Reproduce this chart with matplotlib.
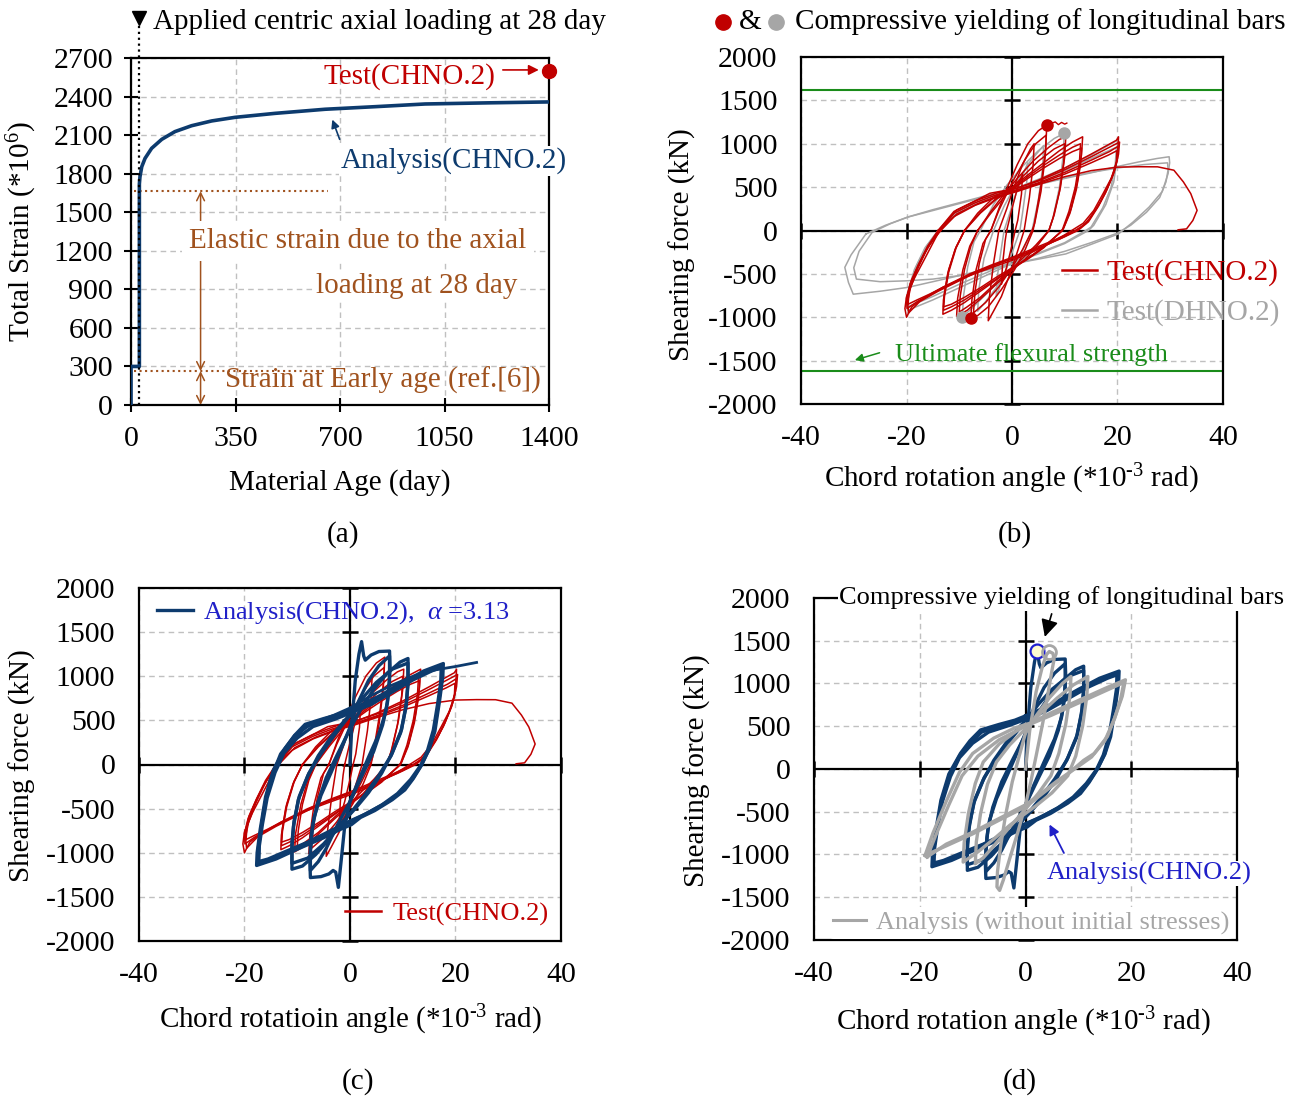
import numpy as np
import matplotlib.pyplot as plt
from matplotlib.lines import Line2D

plt.rcParams['font.family'] = ['Liberation Serif', 'DejaVu Serif']
plt.rcParams['mathtext.fontset'] = 'custom'
plt.rcParams['mathtext.rm'] = 'Liberation Serif'
plt.rcParams['mathtext.it'] = 'Liberation Serif:italic'
plt.rcParams['axes.unicode_minus'] = False

FS = 21       # axis labels, (a)/(b) annotations
FS_TICK = 21.5
FS_IN = 19    # in-plot texts of (b) flexural, (c), (d)
NAVY = '#0D3B6E'
RED = '#C00000'
GRAY = '#A6A6A6'
GREEN = '#1A8C1A'
BROWN = '#A0521E'
BLUE_TXT = '#2020C8'
GRID = '#C0C0C0'

# ---------------- (a) creep strain history ----------------
age_days = [0, 0, 28, 28, 30, 36, 47, 69, 103, 147, 203, 270, 348, 482, 650, 817, 985, 1200, 1400]
total_strain = [0, 300, 300, 1720, 1776, 1854, 1919, 1997, 2067, 2127, 2173, 2210, 2238, 2269, 2301,
                2321, 2342, 2351, 2358]
test_age = [1400]
test_strain = [2600]
age_ticks = [0, 350, 700, 1050, 1400]
strain_ticks = [0, 300, 600, 900, 1200, 1500, 1800, 2100, 2400, 2700]
loading_day = 28
elastic_top = 1663
early_top = 264

# ---------------- hysteresis data (x: *10^-3 rad, y: kN) ----------------
test_chno2_loops = [
    [(-1, 0), (0, 250), (1, 480), (2, 650), (1.8, 420), (1.1, 120), (0.6, 0), (0, -170), (-1, -420),
     (-2, -620), (-1.8, -400), (-1.3, -120), (-1, 0)],
    [(-2.5, 0), (-1, 250), (0.5, 520), (2, 760), (3.5, 940), (4.2, 1000), (4, 750), (3.3, 380), (2.3, 0),
     (1, -250), (-0.5, -520), (-2, -760), (-3.5, -930), (-4.5, -1040), (-4.3, -780), (-3.5, -380), (-2.5, 0)],
    [(-4, 0), (-2.5, 250), (-1, 480), (1, 760), (3, 1000), (5, 1150), (6.6, 1216), (6.4, 950), (5.6, 560),
     (4.6, 200), (4, 0), (2.5, -220), (0.5, -450), (-2, -680), (-4.5, -880), (-6.5, -980), (-7.8, -1012),
     (-7.6, -800), (-6.8, -450), (-5.5, -150), (-4, 0)],
    [(-4, 0), (-2.5, 230), (0, 550), (2.5, 820), (4.5, 1000), (6.5, 1100), (6.3, 850), (5.5, 450), (4.3, 80),
     (3.8, 0), (2, -220), (0, -430), (-2.5, -650), (-5, -830), (-7.3, -950), (-7, -700), (-6.2, -380),
     (-5, -100), (-4, 0)],
    [(-6.5, 0), (-4, 220), (-1.5, 420), (1, 600), (4, 800), (7, 960), (9, 1050), (10.2, 1080), (10, 850),
     (9.2, 500), (8, 180), (7, 0), (5, -160), (2.5, -330), (0, -460), (-3, -620), (-6, -790), (-8.5, -920),
     (-10.5, -990), (-10.3, -780), (-9.3, -450), (-8, -180), (-6.5, 0)],
    [(-6.5, 0), (-4, 200), (-1, 420), (2, 620), (5, 800), (8, 940), (10, 1000), (9.8, 780), (9, 450),
     (7.8, 150), (7, 0), (4.5, -170), (2, -320), (0, -440), (-3, -600), (-6, -770), (-8.5, -880),
     (-10, -940), (-9.8, -750), (-9, -450), (-7.8, -180), (-6.5, 0)],
    [(-9, 0), (-6.5, 200), (-3.5, 380), (0, 500), (3, 640), (6, 780), (9, 920), (11.5, 1020), (13.4, 1080),
     (13.2, 880), (12.4, 560), (11.2, 250), (9.8, 30), (9, -30), (6, -190), (3, -320), (0, -440),
     (-3, -570), (-6, -700), (-9, -830), (-11.5, -920), (-13.1, -965), (-13, -800), (-12.2, -500),
     (-10.8, -220), (-9, 0)],
    [(-9, 0), (-6, 210), (-3, 370), (0, 480), (3, 620), (6, 750), (9, 870), (11.5, 960), (13, 1000),
     (12.8, 800), (12, 500), (10.8, 220), (9.5, 0), (6, -200), (3, -330), (0, -440), (-3, -560), (-6, -680),
     (-9, -800), (-11.5, -880), (-13, -920), (-12.8, -760), (-12, -480), (-10.6, -200), (-9, 0)],
    [(-9, 0), (-6, 200), (-3, 360), (0, 470), (3, 600), (6, 720), (9, 830), (11.5, 910), (13.2, 950),
     (13, 760), (12.2, 470), (11, 200), (9.6, 0), (6, -190), (3, -320), (0, -430), (-3, -540), (-6, -660),
     (-9, -770), (-11.5, -850), (-13, -880), (-12.8, -720), (-12, -450), (-10.6, -190), (-9, 0)],
    [(-14, -30), (-10.5, 236), (-7, 340), (-4.2, 429), (0.9, 486), (5, 580), (10, 720), (15, 880),
     (18, 980), (19.8, 1040), (20.2, 1080), (20.1, 930), (19.8, 775), (18.8, 600), (17.3, 428),
     (15.5, 230), (13.5, 83), (10, -50), (7.2, -148), (3.5, -260), (0.2, -340), (-4, -430), (-8.6, -532),
     (-13, -650), (-17, -790), (-19, -880), (-20, -1000), (-20.3, -900), (-20, -764), (-18.5, -550),
     (-16.5, -320), (-14, -30)],
    [(-14, 0), (-11, 220), (-7, 340), (-3, 430), (1, 490), (5, 570), (10, 700), (15, 850), (18.5, 960),
     (20.4, 1020), (20.2, 880), (19.5, 700), (18.3, 520), (16.8, 330), (14.8, 140), (13, 30), (10, -70),
     (6, -180), (2, -280), (-2, -370), (-6, -460), (-10, -580), (-14, -700), (-17.5, -820), (-19.6, -950),
     (-19.8, -820), (-19.2, -650), (-17.8, -430), (-16, -200), (-14, 0)],
    [(-14, 0), (-11, 200), (-7, 320), (-3, 410), (1, 470), (5, 550), (10, 670), (15, 810), (18.5, 910),
     (20.1, 970), (20, 830), (19.3, 660), (18, 470), (16.4, 280), (14.5, 100), (12.5, 0), (9, -100),
     (5, -200), (1, -300), (-3, -390), (-7, -480), (-11, -600), (-15, -720), (-18, -820), (-19.9, -900),
     (-20, -780), (-19.3, -610), (-17.8, -400), (-16, -180), (-14, 0)],
    [(-13.5, 0), (-10.5, 190), (-6.5, 310), (-2.5, 400), (1, 460), (5, 540), (10, 650), (15, 780),
     (18.3, 870), (19.9, 920), (19.8, 790), (19, 620), (17.7, 430), (16, 250), (14, 80), (12, 0), (8, -110),
     (4, -210), (0, -310), (-4, -400), (-8, -500), (-12, -620), (-15.5, -730), (-18, -800), (-19.7, -850),
     (-19.8, -740), (-19.1, -580), (-17.6, -380), (-15.7, -170), (-13.5, 0)],
    [(-19.7, -850), (-19.5, -700), (-18.3, -480), (-16.5, -250), (-14, -20), (-11, 160), (-7, 290),
     (-3, 380), (1, 450), (5, 530), (10, 620), (15, 690), (20, 730), (24, 735), (27.6, 734), (30.7, 695),
     (32.5, 560), (33.9, 425), (35.1, 232), (34.3, 116), (33.1, 19), (31.5, 8)],
]
test_squiggle = [(7.0, 1222), (7.6, 1238), (8.2, 1252), (8.8, 1220), (9.4, 1246), (10.0, 1226), (10.4, 1238)]

test_dhno2_loops = [
    [(-1.5, 0), (0, 280), (1.5, 560), (3, 780), (2.8, 560), (2, 200), (1.5, 0), (0, -260), (-1.5, -520),
     (-3, -760), (-2.8, -540), (-2, -200), (-1.5, 0)],
    [(-3.5, 0), (-1.5, 280), (1, 560), (3.5, 800), (6, 980), (5.8, 720), (5, 350), (3.8, 0), (2, -230),
     (0, -420), (-2.5, -620), (-5, -820), (-6.5, -930), (-6.3, -680), (-5.3, -320), (-3.5, 0)],
    [(-6, 0), (-3.5, 300), (-1, 520), (2, 740), (5, 920), (8, 1060), (9.9, 1120), (9.7, 860), (9, 500),
     (7.8, 150), (7, 0), (4.5, -180), (2, -330), (0, -440), (-3, -620), (-6, -800), (-8, -920),
     (-9.4, -993), (-9.2, -760), (-8.4, -420), (-7.2, -130), (-6, 0)],
    [(-14, 0), (-10, 230), (-5, 370), (0, 470), (5, 590), (10, 720), (15, 870), (20, 1040), (20, 860),
     (19.3, 560), (17.8, 300), (15.5, 60), (14.5, 0), (10, -150), (5, -270), (0, -380), (-5, -520),
     (-10, -660), (-15, -800), (-19.8, -920), (-19.8, -720), (-18.5, -450), (-16.5, -200), (-14, 0)],
    [(-14, 0), (-10, 210), (-5, 350), (0, 450), (5, 570), (10, 690), (15, 830), (19.8, 960), (19.6, 780),
     (18.8, 500), (17.2, 260), (15, 40), (14, 0), (10, -140), (5, -260), (0, -360), (-5, -490),
     (-10, -620), (-15, -760), (-19.8, -880), (-19.6, -680), (-18.2, -420), (-16.2, -180), (-14, 0)],
    [(-27.7, -40), (-24, 60), (-19.8, 154), (-15, 230), (-10, 310), (-5, 390), (0, 463), (5, 530),
     (10, 600), (15, 665), (19.7, 734), (24, 790), (27.5, 830), (29.8, 850), (29.9, 780), (29.6, 656),
     (28.5, 450), (26, 270), (23, 100), (20.2, -39), (15, -160), (10.2, -270), (5, -330), (0, -386),
     (-5, -450), (-10, -520), (-15, -590), (-19.8, -656), (-25, -700), (-30.1, -734), (-31, -600),
     (-31.7, -425), (-30.5, -280), (-27.7, -40)],
    [(-26.5, -20), (-23, 80), (-19.5, 160), (-15, 240), (-10, 320), (-5, 400), (0, 470), (5, 540),
     (10, 610), (15, 670), (20, 720), (25, 760), (29.5, 780), (29.6, 700), (29.2, 560), (28, 380),
     (25.5, 210), (22.5, 60), (20, -30), (15, -140), (10, -240), (5, -320), (0, -390), (-5, -460),
     (-10, -520), (-15, -560), (-20, -580), (-25, -590), (-29.5, -560), (-30, -430), (-29, -240),
     (-26.5, -20)],
]

analysis_loops = [
    [(0, 0), (0.4, 500), (1, 950), (1.7, 1250), (2.2, 1392), (2.6, 1230), (2.9, 1182), (4, 1240),
     (5.5, 1280), (7.5, 1285), (7.6, 1100), (7.3, 800), (6.8, 600), (5.5, 350), (3.5, 80), (1.5, -200),
     (0, -420), (-1, -700), (-1.6, -1050), (-2.2, -1392), (-2.7, -1220), (-3.2, -1200), (-4, -1240),
     (-5.5, -1270), (-7.5, -1281), (-7.6, -1100), (-7.3, -800), (-6.8, -600), (-5.5, -350), (-3.5, -80),
     (-1.5, 200), (0, 420)],
    [(0, 420), (1.5, 700), (3.5, 950), (5.5, 1120), (7.5, 1230), (7.5, 950), (7.1, 700), (6.2, 450),
     (4.5, 150), (2.5, -100), (0, -420), (-2.5, -700), (-4.5, -950), (-6, -1100), (-7.5, -1200),
     (-7.5, -950), (-7.1, -700), (-6.2, -450), (-4.5, -150), (-2.5, 100), (0, 400)],
    [(0, 400), (2, 620), (4.5, 850), (7, 1030), (9.5, 1160), (11, 1201), (11, 950), (10.7, 700),
     (9.8, 400), (8, 130), (6, -100), (3.5, -320), (1, -500), (-1.5, -660), (-4, -850), (-6.5, -1020),
     (-9, -1150), (-11, -1186), (-11, -950), (-10.7, -700), (-9.8, -400), (-8, -130), (-6, 100),
     (-3.5, 320), (-1, 500), (0, 560)],
    [(0, 560), (2.5, 760), (5, 930), (8, 1080), (11, 1150), (11, 900), (10.6, 640), (9.6, 360), (7.8, 100),
     (5.5, -120), (3, -330), (0.5, -520), (-2, -700), (-5, -900), (-8, -1060), (-11, -1120), (-11, -880),
     (-10.6, -640), (-9.6, -360), (-7.8, -100), (-5.5, 120), (-3, 330), (0, 560)],
    [(0, 620), (3, 700), (6, 790), (10, 930), (14, 1060), (17.7, 1144), (17.6, 1000), (17, 729),
     (16.1, 377), (15, 170), (13.5, -14), (12, -160), (10.4, -288), (8, -400), (4.7, -522), (2, -600),
     (0.3, -680), (-2, -740), (-5, -830), (-10, -960), (-14, -1070), (-17.7, -1144), (-17.6, -1000),
     (-17, -729), (-16, -366), (-14.5, -60), (-12.3, 182), (-10.5, 330), (-8.5, 455), (-5, 520),
     (-2, 570), (0, 620)],
    [(0, 600), (3, 680), (6, 770), (10, 910), (14, 1040), (17.5, 1120), (17.4, 960), (16.8, 700),
     (16, 400), (15, 180), (13.6, 0), (12, -150), (10, -290), (7.5, -410), (4.5, -510), (2, -590),
     (0, -650), (-3, -740), (-6, -830), (-10, -940), (-14, -1050), (-17.5, -1120), (-17.4, -960),
     (-16.8, -700), (-15.9, -380), (-14.4, -80), (-12.5, 150), (-10.5, 300), (-8.3, 430), (-5, 500),
     (-2, 550), (0, 600)],
    [(0, 580), (4, 680), (8, 820), (12, 960), (15.5, 1060), (17.3, 1100), (17.2, 930), (16.6, 680),
     (15.8, 390), (14.7, 160), (13.4, -10), (11.5, -170), (9, -330), (6, -460), (3, -560), (0, -640),
     (-4, -760), (-8, -880), (-12, -980), (-15.5, -1070), (-17.3, -1100), (-17.2, -930), (-16.6, -680),
     (-15.7, -380), (-14.2, -90), (-12.5, 130), (-10, 300), (-7, 430), (-3, 510), (0, 580)],
]
analysis_tail = [(-17.3, -1100), (-17.1, -850), (-16.4, -520), (-15.2, -180), (-13.2, 120), (-10.5, 330),
                 (-7, 470), (-3, 560), (0, 640), (4, 780), (8, 900), (12, 1000), (16, 1070), (20, 1110),
                 (24, 1156)]

no_initial_loops = [
    [(0, 0), (0.8, 450), (2, 900), (3.2, 1200), (4, 1340), (4.5, 1373), (5.2, 1350), (5.4, 1280),
     (5, 1150), (4.3, 900), (3.3, 550), (2, 150), (1, -150), (0, -420), (-1.5, -750), (-3, -1050),
     (-4.2, -1300), (-4.9, -1421), (-5.4, -1380), (-5.3, -1200), (-4.7, -900), (-3.8, -550),
     (-2.5, -150), (-1.2, 150), (0, 420)],
    [(0, 420), (2, 620), (4.5, 830), (7, 1000), (8.6, 1081), (8.4, 850), (7.6, 520), (6.3, 180),
     (4.8, -80), (2.5, -280), (0, -470), (-3, -680), (-6, -900), (-8, -1040), (-9.5, -1109), (-9.3, -850),
     (-8.5, -520), (-7.2, -180), (-5.5, 80), (-3, 280), (0, 470)],
    [(0, 470), (3, 660), (6, 830), (9, 980), (11.8, 1081), (11.6, 850), (10.8, 500), (9.5, 150),
     (8, -80), (5, -280), (2, -430), (0, -520), (-3, -660), (-6, -820), (-9, -970), (-11.8, -1090),
     (-11.6, -860), (-10.8, -520), (-9.5, -170), (-8, 80), (-5, 290), (-2, 430), (0, 520)],
    [(-19, -1011), (-17.5, -750), (-15, -380), (-12.5, -40), (-10, 180), (-6, 360), (-2, 480),
     (0.9, 535), (5, 660), (10, 800), (15, 940), (18.9, 1042), (18.3, 850), (17, 620), (15.5, 380),
     (13, 180), (11, 100), (8, -60), (4, -250), (0, -445), (-5, -600), (-10, -760), (-15, -900),
     (-19, -1011)],
    [(-18.6, -1030), (-17, -780), (-14.5, -420), (-12, -80), (-9, 150), (-5, 340), (0, 500), (5, 630),
     (10, 770), (15, 910), (18.6, 1010), (18, 820), (16.8, 580), (15, 330), (12.5, 140), (10, 30),
     (6, -140), (2, -330), (0, -420), (-5, -580), (-10, -740), (-15, -880), (-18.6, -1030)],
]

yield_test_chno2 = [(6.6, 1216), (-7.8, -1012)]
yield_test_dhno2 = [(9.9, 1120), (-9.4, -993)]
yield_analysis = [(2.2, 1381)]
yield_no_initial = [(4.4, 1370)]
flexural_strength = 1625

rot_ticks = [-40, -20, 0, 20, 40]
force_ticks = [-2000, -1500, -1000, -500, 0, 500, 1000, 1500, 2000]
ROT_LABEL = 'Chord rotation angle (*10$^{\\text{-3}}$ rad)'


def draw_loops(ax, loops, color, lw):
    for loop in loops:
        arr = np.array(loop)
        ax.plot(arr[:, 0], arr[:, 1], color=color, lw=lw, zorder=3)


def style_hyst(ax):
    ax.set_xlim(-40, 40)
    ax.set_ylim(-2000, 2000)
    ax.set_xticks(rot_ticks)
    ax.set_yticks(force_ticks)
    ax.tick_params(length=0, labelsize=FS_TICK)
    ax.tick_params(axis='y', pad=17)
    ax.tick_params(axis='x', pad=15)
    for s in ax.spines.values():
        s.set_linewidth(1.6)
    ax.grid(True, ls=(0, (4, 3)), color=GRID, lw=1)
    ax.set_axisbelow(True)
    ax.axhline(0, color='k', lw=1.6, zorder=1.5)
    ax.axvline(0, color='k', lw=1.6, zorder=1.5)
    ax.plot(np.zeros(len(force_ticks)), force_ticks, ls='none', marker='_', ms=12, mew=1.8,
            color='k', zorder=1.6, clip_on=False)
    ax.plot(rot_ticks, np.zeros(len(rot_ticks)), ls='none', marker='|', ms=12, mew=1.8,
            color='k', zorder=1.6, clip_on=False)


fig = plt.figure(figsize=(13.01, 11), dpi=100)
ax_a = fig.add_axes([0.1007, 0.6318, 0.3213, 0.3155])
ax_b = fig.add_axes([0.6157, 0.6327, 0.3243, 0.3155])
ax_c = fig.add_axes([0.1068, 0.1445, 0.3244, 0.321])
ax_d = fig.add_axes([0.6257, 0.1455, 0.3251, 0.311])

# =========================
# (a)
# =========================
ax = ax_a
ax.set_xlim(0, 1400)
ax.set_ylim(0, 2700)
ax.set_xticks(age_ticks)
ax.set_yticks(strain_ticks)
ax.tick_params(direction='inout', length=10, width=1.5, labelsize=FS_TICK, top=False, right=False)
ax.tick_params(axis='y', pad=8)
ax.tick_params(axis='x', pad=10)
for s in ax.spines.values():
    s.set_linewidth(1.6)
ax.grid(True, ls=(0, (4, 3)), color=GRID, lw=1)
ax.set_axisbelow(True)
ax.plot(age_days, total_strain, color=NAVY, lw=2.6, zorder=3)
ax.plot(test_age, test_strain, 'o', color=RED, ms=10, clip_on=False, zorder=6)
ax.plot([loading_day, loading_day], [0, 3010], ls=':', color='k', lw=1.6, clip_on=False, zorder=4)
ax.plot([loading_day], [3010], marker='v', color='k', ms=10, clip_on=False)
ax.text(73, 2980, 'Applied centric axial loading at 28 day', fontsize=FS, ha='left', va='center')

ax.text(1222, 2552, 'Test(CHNO.2)', color=RED, fontsize=FS, ha='right', va='center')
ax.annotate('', xy=(1375, 2607), xytext=(1236, 2607),
            arrowprops=dict(arrowstyle='-|>', color=RED, lw=1.2, mutation_scale=15))
ax.text(1081, 1899, 'Analysis(CHNO.2)', color=NAVY, fontsize=FS, ha='center', va='center',
        bbox=dict(fc='white', ec='none', pad=1), zorder=5)
ax.annotate('', xy=(671, 2241), xytext=(702, 2047),
            arrowprops=dict(arrowstyle='-|>', color=NAVY, lw=1.2, mutation_scale=12))

ax.plot([10, 660], [elastic_top, elastic_top], ls=':', color=BROWN, lw=1.5)
ax.plot([10, 650], [early_top, early_top], ls=':', color=BROWN, lw=1.5)
ax.annotate('', xy=(233, elastic_top), xytext=(233, early_top),
            arrowprops=dict(arrowstyle='<->', color=BROWN, lw=1.1, mutation_scale=14,
                            shrinkA=0, shrinkB=0))
ax.annotate('', xy=(233, early_top), xytext=(233, 0),
            arrowprops=dict(arrowstyle='<->', color=BROWN, lw=1.1, mutation_scale=14,
                            shrinkA=0, shrinkB=0))
ax.text(760, 1276, 'Elastic strain due to the axial', color=BROWN, fontsize=FS, ha='center',
        va='center', bbox=dict(fc='white', ec='none', pad=5), zorder=5)
ax.text(958, 926, 'loading at 28 day', color=BROWN, fontsize=FS, ha='center', va='center',
        bbox=dict(fc='white', ec='none', pad=1), zorder=5)
ax.text(844, 195, 'Strain at Early age (ref.[6])', color=BROWN, fontsize=FS, ha='center', va='center',
        zorder=5)

ax.set_xlabel('Material Age (day)', fontsize=FS, va='center')
ax.set_ylabel('Total Strain (*10$^{6}$)', fontsize=FS, va='center')
ax.xaxis.set_label_coords(0.5, -0.222)
ax.yaxis.set_label_coords(-0.26, 0.5)

# =========================
# (b)
# =========================
ax = ax_b
style_hyst(ax)
ax.axhline(flexural_strength, color=GREEN, lw=1.5, zorder=2)
ax.axhline(-flexural_strength, color=GREEN, lw=1.5, zorder=2)
draw_loops(ax, test_dhno2_loops, GRAY, 1.1)
draw_loops(ax, test_chno2_loops, RED, 1.1)
sq = np.array(test_squiggle)
ax.plot(sq[:, 0], sq[:, 1], color=RED, lw=1.0, zorder=3)
yt = np.array(yield_test_chno2)
yd = np.array(yield_test_dhno2)
ax.plot(yd[:, 0], yd[:, 1], 'o', color=GRAY, ms=8, zorder=5)
ax.plot(yt[:, 0], yt[:, 1], 'o', color=RED, ms=8, zorder=5)

ax.text(-22.2, -1434, 'Ultimate flexural strength', color=GREEN, fontsize=FS_IN, ha='left', va='center',
        zorder=5)
ax.annotate('', xy=(-30.3, -1503), xytext=(-24.6, -1400),
            arrowprops=dict(arrowstyle='-|>', color=GREEN, lw=1.1, mutation_scale=12))
leg_b = ax.legend(handles=[Line2D([], [], color=RED, lw=1.8), Line2D([], [], color=GRAY, lw=1.8)],
                  labels=['Test(CHNO.2)', 'Test(DHNO.2)'], loc='center left',
                  bbox_to_anchor=(0.618, 0.32), frameon=False, fontsize=FS, labelcolor='linecolor',
                  handlelength=1.2, handletextpad=0.35, borderpad=0, borderaxespad=0, labelspacing=0.45)
leg_b.set_zorder(6)

fig.add_artist(Line2D([723 / 1301], [1 - 22 / 1100], marker='o', color=RED, ms=11,
                      transform=fig.transFigure))
fig.add_artist(Line2D([776 / 1301], [1 - 22 / 1100], marker='o', color=GRAY, ms=11,
                      transform=fig.transFigure))
fig.text(750 / 1301, 1 - 22 / 1100, '&', fontsize=FS, ha='center', va='center')
fig.text(795 / 1301, 1 - 22 / 1100, 'Compressive yielding of longitudinal bars', fontsize=FS,
         ha='left', va='center')

ax.set_xlabel(ROT_LABEL, fontsize=FS, va='center')
ax.set_ylabel('Shearing force (kN)', fontsize=FS, va='center')
ax.xaxis.set_label_coords(0.498, -0.216)
ax.yaxis.set_label_coords(-0.282, 0.458)

# =========================
# (c)
# =========================
ax = ax_c
style_hyst(ax)
draw_loops(ax, test_chno2_loops, RED, 1.1)
draw_loops(ax, analysis_loops, NAVY, 2.4)
tail = np.array(analysis_tail)
ax.plot(tail[:, 0], tail[:, 1], color=NAVY, lw=2.0, zorder=3)

leg1 = ax.legend(handles=[Line2D([], [], color=NAVY, lw=2.4)],
                 labels=['Analysis(CHNO.2),  $\\mathit{\\alpha}$ =3.13'], loc='center left',
                 bbox_to_anchor=(0.043, 0.929), frameon=False, fontsize=FS_IN, labelcolor=[BLUE_TXT],
                 handlelength=1.35, handletextpad=0.4, borderpad=0, borderaxespad=0)
ax.add_artist(leg1)
ax.legend(handles=[Line2D([], [], color=RED, lw=1.8)], labels=['Test(CHNO.2)'], loc='center left',
          bbox_to_anchor=(0.488, 0.0765), frameon=False, fontsize=FS_IN, labelcolor=[RED],
          handlelength=1.35, handletextpad=0.45, borderpad=0, borderaxespad=0)

ax.set_xlabel('Chord rotatioin angle (*10$^{\\text{-3}}$ rad)', fontsize=FS, va='center')
ax.set_ylabel('Shearing force (kN)', fontsize=FS, va='center')
ax.xaxis.set_label_coords(0.5, -0.224)
ax.yaxis.set_label_coords(-0.277, 0.496)

# =========================
# (d)
# =========================
ax = ax_d
style_hyst(ax)
draw_loops(ax, analysis_loops, NAVY, 2.4)
draw_loops(ax, no_initial_loops, GRAY, 2.4)
ya = np.array(yield_analysis)
yn = np.array(yield_no_initial)
ax.plot(ya[:, 0], ya[:, 1], 'o', mfc='#FFFBD0', mec='#1F1FD0', mew=1.6, ms=10, zorder=5)
ax.plot(yn[:, 0], yn[:, 1], 'o', mfc='none', mec=GRAY, mew=2.0, ms=10, zorder=5)

ax.text(-35.3, 2000, 'Compressive yielding of longitudinal bars', fontsize=FS_IN, ha='left', va='center',
        bbox=dict(fc='white', ec='none', pad=1), zorder=6, clip_on=False)
ax.annotate('', xy=(3.5, 1512), xytext=(5.1, 1844),
            arrowprops=dict(arrowstyle='-|>', color='k', lw=1.2, mutation_scale=26))
ax.text(4.0, -1223, 'Analysis(CHNO.2)', color=BLUE_TXT, fontsize=FS_IN, ha='left', va='center',
        bbox=dict(fc='white', ec='none', pad=1), zorder=6, clip_on=False)
ax.annotate('', xy=(4.3, -621), xytext=(7.5, -1012),
            arrowprops=dict(arrowstyle='-|>', color=BLUE_TXT, lw=1.3, mutation_scale=15))
leg_d = ax.legend(handles=[Line2D([], [], color=GRAY, lw=2.2)],
                  labels=['Analysis (without initial stresses)'], loc='center left',
                  bbox_to_anchor=(0.035, 0.05), frameon=True, fontsize=FS_IN, labelcolor=[GRAY],
                  handlelength=1.25, handletextpad=0.4, borderpad=0.15, borderaxespad=0)
leg_d.get_frame().set_facecolor('white')
leg_d.get_frame().set_edgecolor('none')
leg_d.get_frame().set_alpha(1)
leg_d.set_zorder(6)

ax.set_xlabel(ROT_LABEL, fontsize=FS, va='center')
ax.set_ylabel('Shearing force (kN)', fontsize=FS, va='center')
ax.xaxis.set_label_coords(0.494, -0.24)
ax.yaxis.set_label_coords(-0.277, 0.494)

# panel letters
for lbl, px, py in [('(a)', 343, 535), ('(b)', 1015, 535), ('(c)', 358, 1082), ('(d)', 1020, 1082)]:
    fig.text(px / 1301, 1 - py / 1100, lbl, fontsize=FS, ha='center', va='center')

fig.savefig('out.png', dpi=100)
